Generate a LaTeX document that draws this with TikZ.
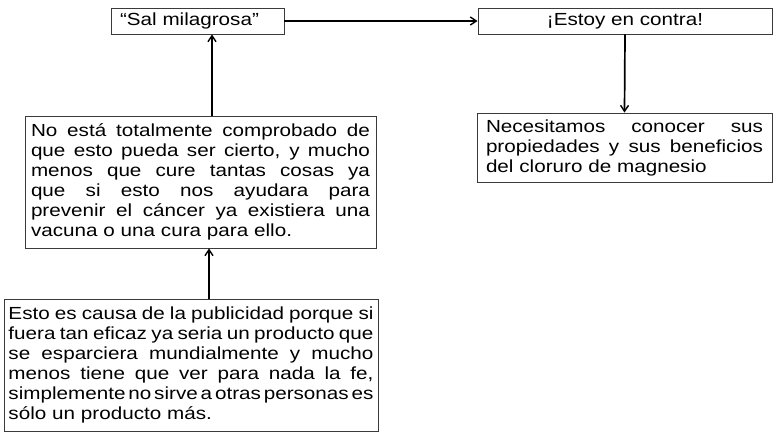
\documentclass[tikz,border=0pt]{standalone}
\usepackage{fontspec}
\setmainfont[FakeStretch=1.18]{Liberation Sans}
\usetikzlibrary{arrows.meta}
\definecolor{boxline}{HTML}{3A3A3A}
\newcommand\jline[2]{{\spaceskip=\fontdimen2\font plus 1em minus 0.6\fontdimen2\font\xspaceskip=0pt\makebox[#1][s]{#2}}\\}
\tikzset{
  box/.style={draw=boxline, line width=0.9pt, font=\fontsize{17.5}{20}\selectfont, inner ysep=0pt},
  jbox/.style={box, align=left},
  arr/.style={line width=1.7pt, -{Straight Barb[length=6pt,width=8pt,line width=1.4pt]}}
}
\begin{document}
\begin{tikzpicture}[x=1pt,y=-1pt]
\useasboundingbox (0,0) rectangle (781,438);
% top boxes
\node[box, minimum width=173pt, minimum height=26pt, text width=155pt, inner xsep=9pt, align=left] (sal) at (197.5,21) {“Sal milagrosa”};
\node[box, minimum width=294pt, minimum height=26pt, align=center] (contra) at (625,21) {¡Estoy en contra!};
% right box
\node[jbox, minimum width=295pt, minimum height=69pt, text width=277pt, inner xsep=9pt] (nec) at (624.5,147.5)
  {\jline{277pt}{Necesitamos conocer sus}\jline{277pt}{propiedades y sus beneficios}del cloruro de magnesio};
% middle left box
\node[jbox, minimum width=351pt, minimum height=132pt, text width=339pt, inner xsep=6pt] (noesta) at (200.5,182)
  {\jline{339pt}{No está totalmente comprobado de}\jline{339pt}{que esto pueda ser cierto, y mucho}\jline{339pt}{menos que cure tantas cosas ya}\jline{339pt}{que si esto nos ayudara para}\jline{339pt}{prevenir el cáncer ya existiera una}vacuna o una cura para ello.};
% bottom left box
\node[jbox, minimum width=374pt, minimum height=132pt, text width=365pt, inner xsep=4.5pt] (esto) at (191,365)
  {\jline{365pt}{Esto es causa de la publicidad porque si}\jline{365pt}{fuera tan eficaz ya seria un producto que}\jline{365pt}{se esparciera mundialmente y mucho}\jline{365pt}{menos tiene que ver para nada la fe,}\jline{365pt}{simplemente no sirve a otras personas es}sólo un producto más.};
% connectors
\draw[arr] (sal.east) -- (contra.west);
\draw[arr] (contra.south) -- (nec.north);
\draw[arr] ([xshift=11.5pt]noesta.north) -- ([xshift=11.5pt]noesta.north |- sal.south);
\draw[arr] ([xshift=18pt]esto.north) -- ([xshift=18pt]esto.north |- noesta.south);
\end{tikzpicture}
\end{document}
